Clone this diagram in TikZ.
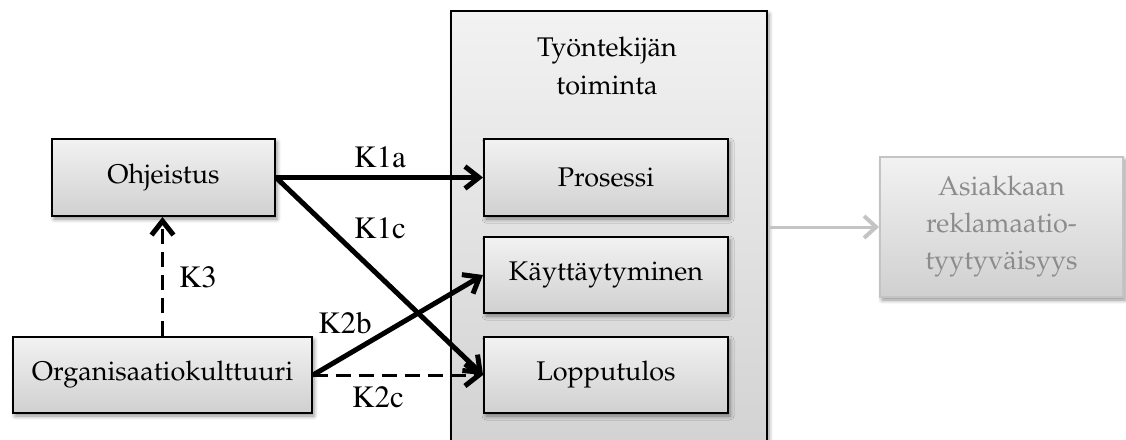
\documentclass[tikz,border=0pt]{standalone}
\usepackage[T1]{fontenc}
\usepackage{mathpazo}
\usetikzlibrary{arrows.meta,shadows.blur}

\definecolor{boxtop}{HTML}{F2F2F2}
\definecolor{boxbot}{HTML}{D0D0D0}
\definecolor{fadeline}{HTML}{C4C4C4}
\definecolor{fadetext}{HTML}{8C8C8C}

\tikzset{
  x=1pt, y=-1pt,
  boxshadow/.style={blur shadow={shadow xshift=2pt, shadow yshift=-3pt,
      shadow blur radius=4pt, shadow opacity=45}},
  factor/.style={draw=black, line width=2pt, rectangle, top color=boxtop,
      bottom color=boxbot, boxshadow, inner sep=0pt,
      font=\fontsize{27}{37}\selectfont, align=center},
  outcome/.style={factor, draw=fadeline, text=fadetext},
  link/.style={line width=5pt,
      -{Straight Barb[length=14pt, width=22pt, line width=5pt]}},
  dlink/.style={line width=3pt, dash pattern=on 15pt off 8pt,
      -{Straight Barb[length=14pt, width=22pt, line width=5pt]}},
  klab/.style={font=\fontfamily{ptm}\fontsize{31}{34}\selectfont, inner sep=0pt},
}

\begin{document}
\begin{tikzpicture}
  \useasboundingbox (0,0) rectangle (1126,439);

  % frame around the employee's actions
  \node[factor, minimum width=316pt, minimum height=469pt] (tyo) at (609,245.5) {};
  \node[font=\fontsize{27}{38}\selectfont, align=center] (title) at (607,66)
    {Ty\"ontekij\"an\\toiminta};

  % factor boxes
  \node[factor, minimum width=223pt, minimum height=77pt] (ohj) at (163.5,177.5) {Ohjeistus};
  \node[factor, minimum width=299pt, minimum height=76pt] (org) at (162.5,375) {Organisaatiokulttuuri};
  \node[factor, minimum width=244pt, minimum height=77pt] (pro) at (606,177.5) {Prosessi};
  \node[factor, minimum width=244pt, minimum height=76pt] (kay) at (606,275) {K\"aytt\"aytyminen};
  \node[factor, minimum width=244pt, minimum height=76pt] (lop) at (606,375) {Lopputulos};
  \node[outcome, minimum width=243pt, minimum height=140pt] (asi) at (1001.5,227)
    {Asiakkaan\\reklamaatio-\\tyytyv\"aisyys};

  % connectors
  \draw[link] (ohj.east) -- (pro.west);
  \draw[link] (ohj.east) -- (lop.west);
  \draw[link] (org.east) -- (kay.west);
  \draw[dlink] (org.east) -- (lop.west);
  \draw[dlink] (org.north) -- (org.north |- ohj.south);
  \draw[line width=3pt, draw=fadeline,
        -{Straight Barb[length=12pt, width=22pt, line width=4pt]}]
        (asi.west -| tyo.east) -- (asi.west);

  % connector labels
  \node[klab] (k1a) at (380,157) {K1a};
  \node[klab] (k1c) at (380,228) {K1c};
  \node[klab] (k2b) at (345,323) {K2b};
  \node[klab] (k2c) at (378,397) {K2c};
  \node[klab] (k3)  at (198,277) {K3};
\end{tikzpicture}
\end{document}
